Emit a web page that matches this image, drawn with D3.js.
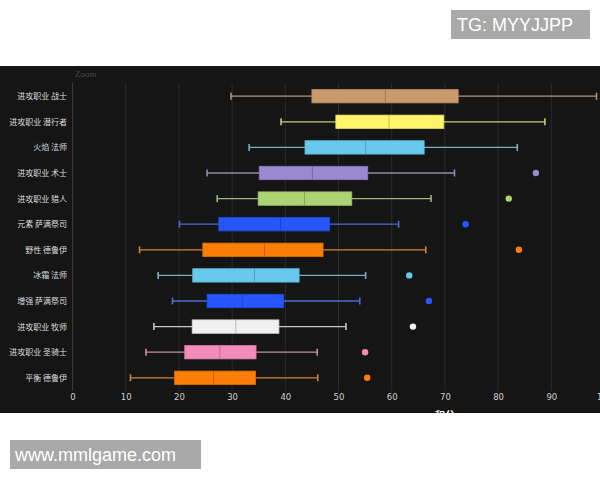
<!DOCTYPE html>
<html>
<head>
<meta charset="utf-8">
<script src="https://cdn.jsdelivr.net/npm/d3@7"></script>
<style>
  body { margin: 0; background: #fff; }
  svg { display: block; }
</style>
</head>
<body>
<svg id="chart" width="600" height="480"></svg>
<script>
// class / spec names, top to bottom
const specs = ['进攻职业 战士', '进攻职业 潜行者', '火焰 法师', '进攻职业 术士', '进攻职业 猎人',
  '元素 萨满祭司', '野性 德鲁伊', '冰霜 法师', '增强 萨满祭司', '进攻职业 牧师',
  '进攻职业 圣骑士', '平衡 德鲁伊'];
const lows    = [29.8, 39.2, 33.2, 25.3, 27.2, 20.1, 12.6, 16.1, 18.8, 15.3, 13.8, 10.9];
const q1s     = [45.0, 49.5, 43.7, 35.1, 34.9, 27.5, 24.5, 22.6, 25.3, 22.5, 21.1, 19.2];
const medians = [58.8, 59.5, 55.1, 45.1, 43.6, 39.1, 36.1, 34.2, 31.9, 30.7, 27.7, 26.5];
const q3s     = [72.5, 69.8, 66.1, 55.5, 52.5, 48.3, 47.1, 42.6, 39.7, 38.8, 34.5, 34.4];
const highs   = [98.5, 88.8, 83.6, 71.8, 67.4, 61.3, 66.4, 55.1, 54.0, 51.4, 46.0, 46.1];
const outliers = [null, null, null, 87.1, 82.0, 73.9, 83.9, 63.3, 67.0, 64.0, 55.0, 55.4];
const colors = ['#c99b6c', '#fff46a', '#69c9ec', '#9a88d0', '#acd473', '#2556ff',
  '#ff7d0a', '#69c9ec', '#2556ff', '#f0f0f0', '#f48cba', '#ff7d0a'];
const xTicks = [0, 10, 20, 30, 40, 50, 60, 70, 80, 90, 100];

const svg = d3.select('#chart');

// dark panel
svg.append('rect').attr('x', 0).attr('y', 66).attr('width', 600).attr('height', 347)
  .attr('fill', '#151515');

const x = d3.scaleLinear().domain([0, 100]).range([72.5, 604.5]);
const y = d3.scalePoint().domain(specs).range([83.4, 390.6]).padding(0.5);
const boxH = 13.4;
const gridTop = 83, gridBottom = 391;

// gridlines
svg.append('g')
  .selectAll('line')
  .data(xTicks)
  .join('line')
  .attr('x1', d => x(d)).attr('x2', d => x(d))
  .attr('y1', gridTop).attr('y2', gridBottom)
  .attr('stroke', d => d === 0 ? '#3a3a3a' : '#2b2b2b')
  .attr('stroke-width', 1);

// x axis labels
const xAxis = d3.axisBottom(x).tickValues(xTicks).tickSize(0).tickPadding(0);
const gx = svg.append('g').attr('transform', `translate(0,${gridBottom + 3})`).call(xAxis);
gx.select('.domain').remove();
gx.selectAll('text')
  .attr('fill', '#cfcfcf')
  .style('font-family', 'DejaVu Sans, sans-serif')
  .style('font-size', '8.5px');

// x axis title (cut by the panel edge)
svg.append('text')
  .attr('x', x(70)).attr('y', 419)
  .attr('text-anchor', 'middle')
  .attr('fill', '#ffffff')
  .style('font-family', 'Noto Sans CJK SC')
  .style('font-weight', 'bold')
  .style('font-size', '10px')
  .text('积分');

// y axis labels
const yAxis = d3.axisLeft(y).tickSize(0).tickPadding(0);
const gy = svg.append('g').attr('transform', 'translate(67,0)').call(yAxis);
gy.select('.domain').remove();
gy.selectAll('text')
  .attr('fill', '#dcdcdc')
  .style('font-family', 'Noto Sans CJK SC')
  .style('font-size', '8px');

// "Zoom" label
svg.append('text')
  .attr('x', 75).attr('y', 77)
  .attr('fill', '#4a4a4a')
  .style('font-family', 'Liberation Serif, serif')
  .style('font-size', '9px')
  .text('Zoom');

const rows = specs.map((s, i) => ({
  name: s, low: lows[i], q1: q1s[i], med: medians[i], q3: q3s[i], high: highs[i],
  out: outliers[i], color: colors[i]
}));
const whiskerColor = c => d3.interpolateRgb(c, '#8a8a8a')(0.4);

const g = svg.append('g');
const row = g.selectAll('g.row').data(rows).join('g')
  .attr('class', 'row')
  .attr('transform', d => `translate(0,${y(d.name)})`);

// whiskers
row.append('line')
  .attr('x1', d => x(d.low)).attr('x2', d => x(d.q1))
  .attr('stroke', d => whiskerColor(d.color)).attr('stroke-width', 1.3);
row.append('line')
  .attr('x1', d => x(d.q3)).attr('x2', d => x(d.high))
  .attr('stroke', d => whiskerColor(d.color)).attr('stroke-width', 1.3);
row.selectAll('line.cap')
  .data(d => [d.low, d.high].map(v => ({ v, c: d.color })))
  .join('line')
  .attr('class', 'cap')
  .attr('x1', d => x(d.v)).attr('x2', d => x(d.v))
  .attr('y1', -3.5).attr('y2', 3.5)
  .attr('stroke', d => whiskerColor(d.c)).attr('stroke-width', 1.6);

// boxes
row.append('rect')
  .attr('x', d => x(d.q1))
  .attr('y', -boxH / 2)
  .attr('width', d => x(d.q3) - x(d.q1))
  .attr('height', boxH)
  .attr('fill', d => d.color)
  .attr('stroke', d => d3.color(d.color).darker(0.3))
  .attr('stroke-width', 0.8);

// medians
row.append('line')
  .attr('x1', d => x(d.med)).attr('x2', d => x(d.med))
  .attr('y1', -boxH / 2).attr('y2', boxH / 2)
  .attr('stroke', d => d3.color(d.color).darker(0.7)).attr('stroke-width', 1);

// outliers
row.filter(d => d.out !== null)
  .append('circle')
  .attr('cx', d => x(d.out))
  .attr('cy', 0)
  .attr('r', 3.2)
  .attr('fill', d => d.color);

// watermarks
svg.append('rect').attr('x', 451).attr('y', 10).attr('width', 139).attr('height', 29).attr('fill', '#a9a9a9');
svg.append('text').attr('x', 457).attr('y', 31)
  .attr('fill', '#ffffff')
  .style('font-family', 'Liberation Sans, Arial, sans-serif')
  .style('font-size', '18px')
  .text('TG: MYYJJPP');

svg.append('rect').attr('x', 10).attr('y', 440).attr('width', 191).attr('height', 29).attr('fill', '#a9a9a9');
svg.append('text').attr('x', 15).attr('y', 461)
  .attr('fill', '#ffffff')
  .style('font-family', 'Liberation Sans, Arial, sans-serif')
  .style('font-size', '18px')
  .text('www.mmlgame.com');
</script>
</body>
</html>
